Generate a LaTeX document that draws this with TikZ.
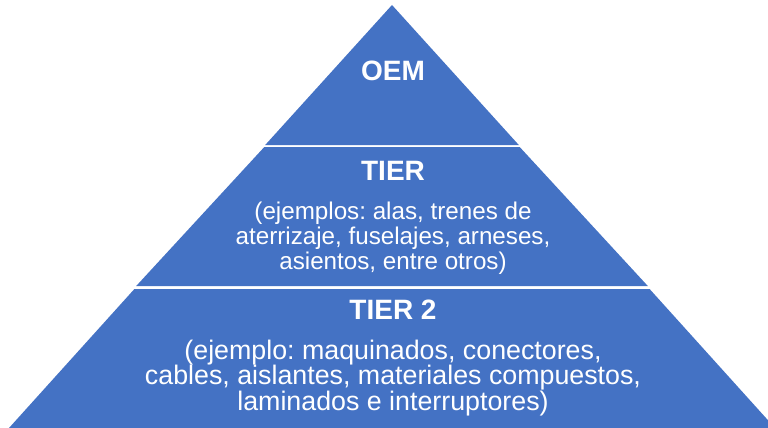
\documentclass[tikz,border=0pt]{standalone}
\usepackage{fontspec}
\setmainfont{Liberation Sans}
\definecolor{pyrblue}{HTML}{4472C4}
\frenchspacing
\begin{document}
\begin{tikzpicture}[x=1pt,y=-1pt,
    level/.style={fill=pyrblue,draw=none},
    title/.style={draw=none,align=center,text=white,inner sep=0pt,font=\fontsize{28}{30}\selectfont\bfseries},
    body/.style={draw=none,align=center,text=white,inner sep=0pt,font=\fontsize{26.8}{25.5}\selectfont}]
    \useasboundingbox (0,0) rectangle (768,428);
    \clip (0,0) rectangle (768,428);

    % top - OEM
    \fill [level] (392,5) -- (518.8,145) -- (265.2,145) -- cycle;
    \node [title, name=o1] at (393,70.5) {OEM};

    % middle - TIER
    \fill [level] (264.3,147) -- (519.7,147) -- (647.8,286) -- (136.2,286) -- cycle;
    \node [title, name=t1] at (393,171) {TIER};
    \node [body, font=\fontsize{24.2}{25.2}\selectfont, name=t2] at (393,238) {(ejemplos: alas, trenes de\\aterrizaje, fuselajes, arneses,\\asientos, entre otros)};

    % bottom - TIER 2
    \fill [level] (134.4,289) -- (649.6,289) -- (775,428) -- (9,428) -- cycle;
    \node [title, name=b1] at (393,309.5) {TIER 2};
    \node [body, name=b2] at (393,378) {(ejemplo: maquinados, conectores,\\cables, aislantes, materiales compuestos,\\laminados e interruptores)};
  \end{tikzpicture}
\end{document}
